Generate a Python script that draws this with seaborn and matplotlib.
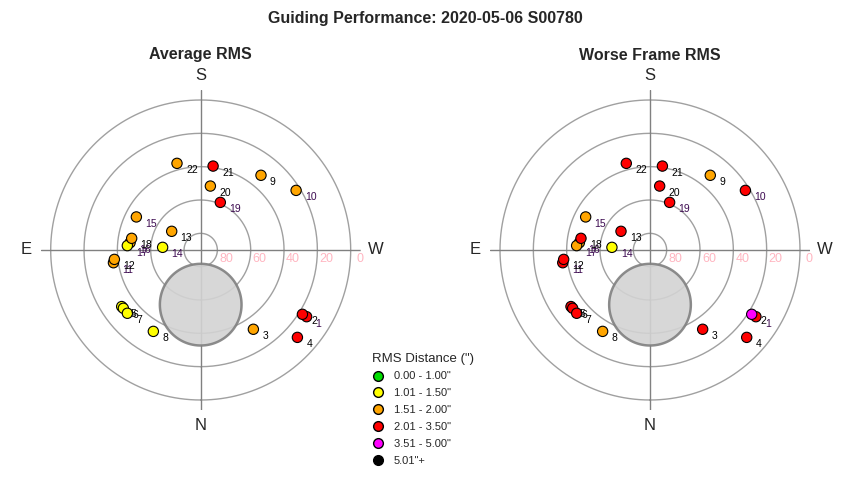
import numpy as np
import pandas as pd
import matplotlib.pyplot as plt
import seaborn as sns
from matplotlib.lines import Line2D

# frame numbers and their position on the sky (azimuth from N through E, altitude)
frames = list(range(1, 23))
azimuth = [302.2, 302.3, 326.4, 312.1, 54.4, 53.0, 49.2, 30.2, 218.9, 238.0, 81.7,
           83.8, 122.8, 94.0, 117.2, 95.9, 93.4, 99.6, 202.4, 188.6, 188.4, 164.7]
altitude = [14.9, 17.8, 32.9, 11.8, 31.7, 31.9, 31.9, 33.5, 32.4, 22.5, 37.1,
            37.9, 69.3, 67.1, 46.6, 47.4, 45.9, 48.0, 59.1, 51.2, 39.1, 36.1]

# RMS classes (index into rms_bins)
rms_bins = ['0.00 - 1.00"', '1.01 - 1.50"', '1.51 - 2.00"',
            '2.01 - 3.50"', '3.51 - 5.00"', '5.01"+']
rms_colors = ['#00dd00', '#ffff00', '#ffa500', '#ff0000', '#ff00ff', '#000000']
avg_class = [3, 3, 2, 3, 1, 1, 1, 1, 2, 2, 2, 2, 2, 1, 2, 2, 1, 2, 3, 2, 3, 2]
worse_class = [3, 4, 3, 3, 3, 3, 3, 2, 2, 3, 3, 3, 3, 1, 2, 2, 2, 3, 3, 3, 3, 3]

# frames whose label is drawn in dark purple
purple_labels = [1, 10, 11, 14, 15, 16, 17, 19]

# grey disc (moon) position
moon_az = 0.0
moon_alt = 57.2
moon_radius = 24.5

alt_ticks = [80, 60, 40, 20, 0]

sns.set_style('white')
plt.rcParams['font.family'] = ['Liberation Sans', 'DejaVu Sans']

df = pd.DataFrame({'frame': frames, 'az': azimuth, 'alt': altitude})
df['theta'] = np.deg2rad(df['az'])
df['zd'] = 90 - df['alt']
palette = dict(zip(rms_bins, rms_colors))

# moon outline in polar coordinates
t = np.linspace(0, 2 * np.pi, 300)
mz = 90 - moon_alt
mx = mz * np.sin(np.deg2rad(moon_az)) + moon_radius * np.cos(t)
my = mz * np.cos(np.deg2rad(moon_az)) + moon_radius * np.sin(t)
moon_theta = np.arctan2(mx, my)
moon_r = np.hypot(mx, my)

fig = plt.figure(figsize=(8.5, 4.8), dpi=100)

paneles = [(40.7, 'Average RMS', avg_class), (490, 'Worse Frame RMS', worse_class)]
for left_px, titulo, clases in paneles:
    ax = fig.add_axes([left_px / 850, 70 / 480, 320 / 850, 320 / 480], projection='polar')
    ax.set_theta_zero_location('S')
    ax.set_theta_direction(-1)
    ax.set_ylim(0, 96)
    ax.set_axis_off()

    circ = np.linspace(0, 2 * np.pi, 361)
    for a in alt_ticks:
        ax.plot(circ, np.full_like(circ, 90 - a), color='#a0a0a0', lw=1, zorder=1)
    for d in [0, 90, 180, 270]:
        ax.plot([np.deg2rad(d)] * 2, [0, 96], color='#808080', lw=1, zorder=1)

    ax.fill(moon_theta, moon_r, facecolor='#d3d3d3', edgecolor='#808080',
            lw=1.8, alpha=0.9, zorder=2)

    # altitude labels along the W axis
    for a in alt_ticks:
        ax.annotate(str(a), (np.deg2rad(270), 90 - a), xytext=(9, -9),
                    textcoords='offset pixels', ha='center', va='center',
                    fontsize=9, color='#ffb6c1')

    for nombre, d in [('N', 0), ('E', 90), ('S', 180), ('W', 270)]:
        ax.text(np.deg2rad(d), 105, nombre, ha='center', va='center',
                fontsize=12, clip_on=False)

    sub = df.copy()
    sub['rms'] = [rms_bins[c] for c in clases]
    sns.scatterplot(data=sub, x='theta', y='zd', hue='rms', hue_order=rms_bins,
                    palette=palette, s=55, edgecolor='black', linewidth=0.8,
                    legend=False, ax=ax, zorder=4)
    ax.set_ylim(0, 96)
    ax.set_axis_off()

    for _, fila in sub.iterrows():
        col = '#3c0a50' if fila['frame'] in purple_labels else 'black'
        ax.annotate(str(int(fila['frame'])), (fila['theta'], fila['zd']),
                    xytext=(9, -7), textcoords='offset pixels', ha='left',
                    va='center', fontsize=7.5, color=col, zorder=5)

    fig.text((left_px + 160) / 850, 1 - 55 / 480, titulo, ha='center',
             va='center', fontsize=11.5, fontweight='bold')

fig.text(425 / 850, 1 - 18 / 480, 'Guiding Performance: 2020-05-06 S00780',
         ha='center', va='center', fontsize=11.5, fontweight='bold')

handles = [Line2D([], [], marker='o', ls='', markerfacecolor=c,
                  markeredgecolor='black', markersize=7) for c in rms_colors]
fig.legend(handles, rms_bins, loc='upper left', bbox_to_anchor=(366 / 850, 1 - 347 / 480),
           frameon=False, title='RMS Distance (")', title_fontsize=9.5, fontsize=8,
           alignment='left', borderpad=0, labelspacing=0.62, handletextpad=0.8,
           handlelength=1.2)

fig.savefig('out.png', dpi=100)
